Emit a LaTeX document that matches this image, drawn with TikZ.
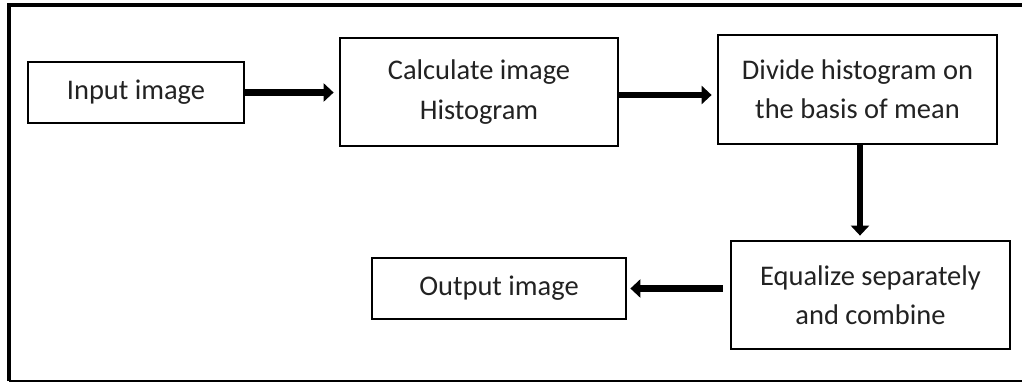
\documentclass[tikz,border=0pt]{standalone}
\usepackage{fontspec}
\setmainfont{Carlito}
\usepackage{tikz}
\usetikzlibrary{arrows.meta,positioning}
\definecolor{textgray}{HTML}{222222}

\begin{document}
\begin{tikzpicture}[x=0.02cm, y=-0.02cm,
	block/.style={draw=black, line width=1.6pt, align=center, inner sep=0pt,
		text=textgray, font=\fontsize{16.2}{22.4}\selectfont},
	arr/.style={line width=3.8pt, -{Triangle[length=0.2cm, width=0.36cm]}}]
		\useasboundingbox (0,0) rectangle (1022,382);
		\draw[line width=2.4pt] (9,381) -- (9,5) -- (1022,5);
		\draw[line width=0.6pt] (9,381) -- (1022,381);

		\node[block, minimum width=4.32cm, minimum height=1.22cm] (input) at (136,92.5) {Input image};
		\node[block, minimum width=5.56cm, minimum height=2.16cm] (hist) at (479,92) {Calculate image\\Histogram};
		\node[block, minimum width=5.58cm, minimum height=2.18cm] (divide) at (857.5,89.5) {Divide histogram on\\the basis of mean};
		\node[block, minimum width=5.58cm, minimum height=2.16cm] (equal) at (870.5,295) {Equalize separately\\and combine};
		\node[block, minimum width=5.08cm, minimum height=1.22cm] (output) at (499,288.5) {Output image};

		\draw[arr, shorten >=0.1cm] (input) -- (input -| hist.west);
		\draw[arr, shorten >=0.1cm] ([yshift=-0.06cm]hist.east) -- ([yshift=-0.06cm]hist.east -| divide.west);
		\draw[arr, shorten >=0.08cm] (equal.north -| divide.south) ++(0.05cm,0) coordinate (dtop)
			(divide.south -| dtop) -- (dtop);
		\draw[arr, shorten <=0.14cm, shorten >=0.06cm] (output.east -| equal.west) -- (output.east);
\end{tikzpicture}
\end{document}
